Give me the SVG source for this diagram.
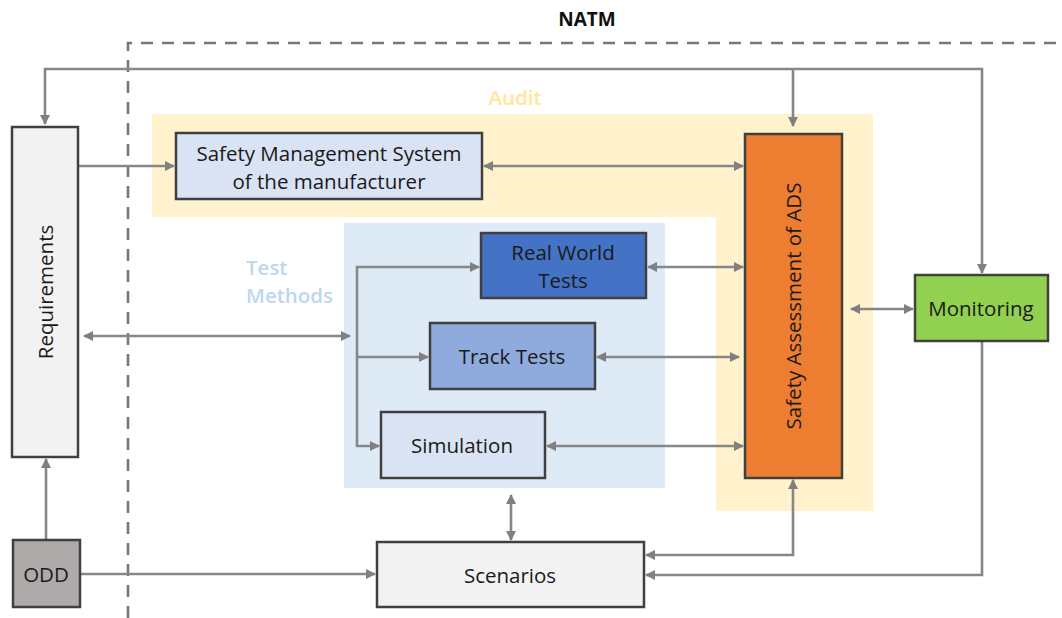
<svg xmlns="http://www.w3.org/2000/svg" width="1062" height="618" viewBox="0 0 1062 618">
<defs>
<marker id="ah" viewBox="0 0 10 10" refX="9" refY="5" markerWidth="4" markerHeight="4" orient="auto-start-reverse" markerUnits="strokeWidth">
<path d="M0,0 L10,5 L0,10 z" fill="#808080"/>
</marker>
<style>
.box{stroke:#404040;stroke-width:2.5}
.t{font-family:"Open Sans","Noto Sans",sans-serif;font-size:20.5px;fill:#1a1a1a;text-anchor:middle;dominant-baseline:central}
.c{fill:none;stroke:#878787;stroke-width:2.6}
.lbl{font-family:"Open Sans","Noto Sans",sans-serif;font-size:20.5px;font-weight:600}
</style>
</defs>
<rect width="1062" height="618" fill="#ffffff"/>
<g id="areas">
<path d="M152,114 H873 V511 H716 V217 H152 Z" fill="#fff2cc"/>
<rect x="344" y="223" width="321" height="265" fill="#deebf7"/>
<text class="lbl" x="515" y="105" fill="#ffe699" text-anchor="middle">Audit</text>
<text class="lbl" x="246" y="275" fill="#bdd7ee">Test</text>
<text class="lbl" x="246" y="303" fill="#bdd7ee">Methods</text>
</g>
<g id="natm">
<path d="M128,618 V43 H1062" fill="none" stroke="#777777" stroke-width="2.6" stroke-dasharray="12,9"/>
<text x="587" y="26" font-family="'Open Sans','Noto Sans',sans-serif" font-size="19" font-weight="700" fill="#111" text-anchor="middle">NATM</text>
</g>
<g id="connectors">
<path class="c" d="M45,124 V69 H982 V273" marker-start="url(#ah)" marker-end="url(#ah)"/>
<path class="c" d="M793,69 V126" marker-end="url(#ah)"/>
<path class="c" d="M79,166 H174" marker-end="url(#ah)"/>
<path class="c" d="M484,166 H743" marker-start="url(#ah)" marker-end="url(#ah)"/>
<path class="c" d="M84,336 H350" marker-start="url(#ah)" marker-end="url(#ah)"/>
<path class="c" d="M479,267 H357 V446 H379" marker-start="url(#ah)" marker-end="url(#ah)"/>
<path class="c" d="M357,357 H428" marker-end="url(#ah)"/>
<path class="c" d="M648,267 H743" marker-start="url(#ah)" marker-end="url(#ah)"/>
<path class="c" d="M597,357 H739" marker-start="url(#ah)" marker-end="url(#ah)"/>
<path class="c" d="M547,446 H743" marker-start="url(#ah)" marker-end="url(#ah)"/>
<path class="c" d="M851,309 H913" marker-start="url(#ah)" marker-end="url(#ah)"/>
<path class="c" d="M511,495 V540" marker-start="url(#ah)" marker-end="url(#ah)"/>
<path class="c" d="M793,480 V555 H646" marker-start="url(#ah)" marker-end="url(#ah)"/>
<path class="c" d="M982,342 V575 H646" marker-end="url(#ah)"/>
<path class="c" d="M46,540 V459" marker-end="url(#ah)"/>
<path class="c" d="M81,574 H375" marker-end="url(#ah)"/>
</g>
<g id="requirements">
<rect class="box" x="12" y="127" width="66" height="330" fill="#f2f2f2"/>
<text class="t" transform="translate(45,292) rotate(-90)">Requirements</text>
</g>
<g id="sms">
<rect class="box" x="176" y="133" width="306" height="66" fill="#dae3f3"/>
<text class="t" x="329" y="153">Safety Management System</text>
<text class="t" x="329" y="181">of the manufacturer</text>
</g>
<g id="realworld">
<rect class="box" x="481" y="233" width="165" height="65" fill="#4472c4"/>
<text class="t" x="563" y="252">Real World</text>
<text class="t" x="563" y="280">Tests</text>
</g>
<g id="track">
<rect class="box" x="430" y="323" width="165" height="66" fill="#8faadc"/>
<text class="t" x="512" y="356">Track Tests</text>
</g>
<g id="simulation">
<rect class="box" x="381" y="412" width="164" height="66" fill="#dae3f3"/>
<text class="t" x="462" y="445">Simulation</text>
</g>
<g id="safety">
<rect class="box" x="745" y="134" width="97" height="344" fill="#ed7d31"/>
<text class="t" transform="translate(793,306) rotate(-90)">Safety Assessment of ADS</text>
</g>
<g id="monitoring">
<rect class="box" x="915" y="275" width="133" height="66" fill="#92d050"/>
<text class="t" x="981" y="308">Monitoring</text>
</g>
<g id="odd">
<rect class="box" x="13" y="540" width="67" height="67" fill="#aeaaaa"/>
<text class="t" x="46" y="574">ODD</text>
</g>
<g id="scenarios">
<rect class="box" x="377" y="542" width="267" height="65" fill="#f2f2f2"/>
<text class="t" x="510" y="575">Scenarios</text>
</g>
</svg>
